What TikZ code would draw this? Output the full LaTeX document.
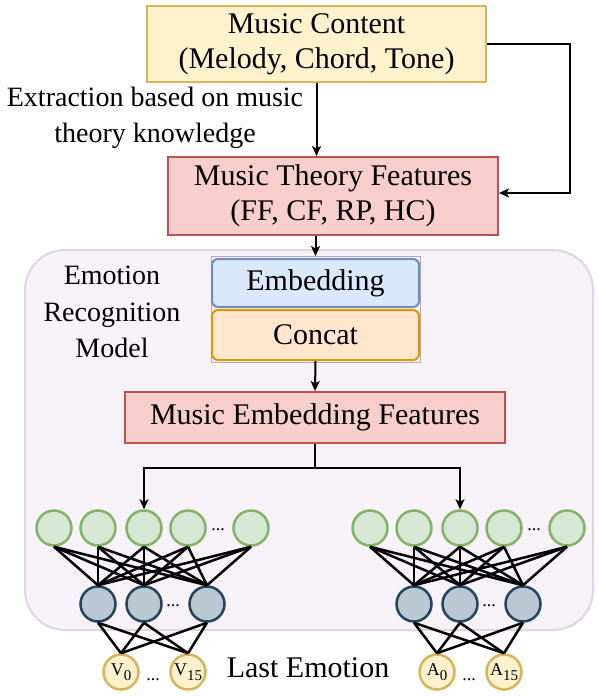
\documentclass[tikz,border=0pt]{standalone}
\usepackage{fontspec}
\setmainfont{Liberation Serif}
\usetikzlibrary{arrows.meta}
\definecolor{contentfill}{HTML}{FFF2CC}
\definecolor{contentdraw}{HTML}{D6B656}
\definecolor{featfill}{HTML}{F8CECC}
\definecolor{featdraw}{HTML}{B85450}
\definecolor{embfill}{HTML}{DAE8FC}
\definecolor{embdraw}{HTML}{6C8EBF}
\definecolor{catfill}{HTML}{FFE6CC}
\definecolor{catdraw}{HTML}{D79B00}
\definecolor{modelfill}{HTML}{F6F2F8}
\definecolor{modeldraw}{HTML}{DFD5E4}
\definecolor{groupdraw}{HTML}{B7A3C6}
\definecolor{greenfill}{HTML}{D5E8D4}
\definecolor{greendraw}{HTML}{82B366}
\definecolor{bluefill}{HTML}{BAC8D3}
\definecolor{bluedraw}{HTML}{23445D}
\newcommand\boxtxt{\fontsize{30}{35}\selectfont}
\newcommand\labeltxt{\fontsize{28}{36.5}\selectfont}
\newcommand\neurontxt{\fontsize{18}{20}\selectfont}
\newcommand\idx[1]{\raisebox{-5pt}{\fontsize{15}{15}\selectfont #1}}
\tikzset{
	>={Stealth[length=10pt, width=9pt, inset=2.5pt]},
	box/.style={draw, line width=2pt, align=center, font=\boxtxt, inner sep=0pt},
	neuron/.style={circle, draw, line width=2.5pt, minimum size=35pt, inner sep=0pt, font=\neurontxt},
	gnode/.style={neuron, fill=greenfill, draw=greendraw},
	bnode/.style={neuron, fill=bluefill, draw=bluedraw},
	ynode/.style={neuron, fill=contentfill, draw=contentdraw},
	dots/.style={font=\neurontxt, inner sep=0pt},
	wire/.style={line width=2.5pt},
	flow/.style={line width=2pt, ->}
}
\begin{document}
\begin{tikzpicture}[x=1pt,y=-1pt]
	\useasboundingbox (0,0) rectangle (599,698);
	% model container
	\draw[line width=2pt, draw=modeldraw, fill=modelfill, rounded corners=40pt] (25,250) rectangle (593,630);
	\node[box, fill=contentfill, draw=contentdraw, minimum width=339pt, minimum height=76pt] (content) at (316.5,44) {Music Content\\(Melody, Chord, Tone)};
	\node[box, fill=featfill, draw=featdraw, minimum width=330pt, minimum height=78pt] (theory) at (333,196) {Music Theory Features\\(FF, CF, RP, HC)};
	\node[font=\labeltxt, align=center, inner sep=0pt] (extract) at (155,118) {Extraction based on music\\theory knowledge};
	\coordinate (bend) at (570,193);
	\draw[flow] (content.east) -| (bend) -- (bend -| theory.east);
	\draw[flow] (content.south) -- (content.south |- theory.north);
	% embedding and concat
	\draw[line width=0.8pt, draw=groupdraw] (211,256) rectangle (420,362);
	\node[box, rounded corners=6pt, fill=embfill, draw=embdraw, minimum width=207pt, minimum height=48pt] (embed) at (315.5,283) {Embedding};
	\node[box, rounded corners=6pt, fill=catfill, draw=catdraw, minimum width=207pt, minimum height=50pt] (concat) at (315.5,335) {Concat};
	\draw[flow] (embed.north |- theory.south) -- (315.5,256);
	\node[font=\labeltxt, align=center, inner sep=0pt] (model) at (112,312) {Emotion\\Recognition\\Model};
	\node[box, fill=featfill, draw=featdraw, minimum width=380pt, minimum height=51pt] (embfeat) at (315,417.5) {Music Embedding Features};
	\draw[flow] (concat.south) -- (embfeat.north);
	% two output networks
	\foreach \s/\dx/\lt in {L/0/V, R/316/A} {
		\foreach \x [count=\i] in {54,98,144,188,251} \node[gnode] (g\s\i) at (\x+\dx,528) {};
		\node[dots] at (218+\dx,530) {...};
		\foreach \x [count=\i] in {98,144,207} \node[bnode] (b\s\i) at (\x+\dx,604) {};
		\node[dots] at (173+\dx,606) {...};
		\node[ynode] (y\s1) at (121+\dx,672) {\lt\idx{0}};
		\node[ynode] (y\s2) at (188+\dx,672) {\lt\idx{15}};
		\node[dots] at (153+\dx,680) {...};
		\foreach \i in {1,...,5} \foreach \j in {1,2,3} \draw[wire] (g\s\i.south) -- (b\s\j.north);
		\foreach \j in {1,2,3} \foreach \k in {1,2} \draw[wire] (b\s\j.south) -- (y\s\k.north);
	}
	\coordinate (split) at (315,468);
	\draw[wire] (embfeat.south) -- (split);
	\draw[flow] (split) -| (gL3.north);
	\draw[flow] (split) -| (gR3.north);
	\node[font=\boxtxt, inner sep=0pt] (last) at (308,668) {Last Emotion};
\end{tikzpicture}
\end{document}
